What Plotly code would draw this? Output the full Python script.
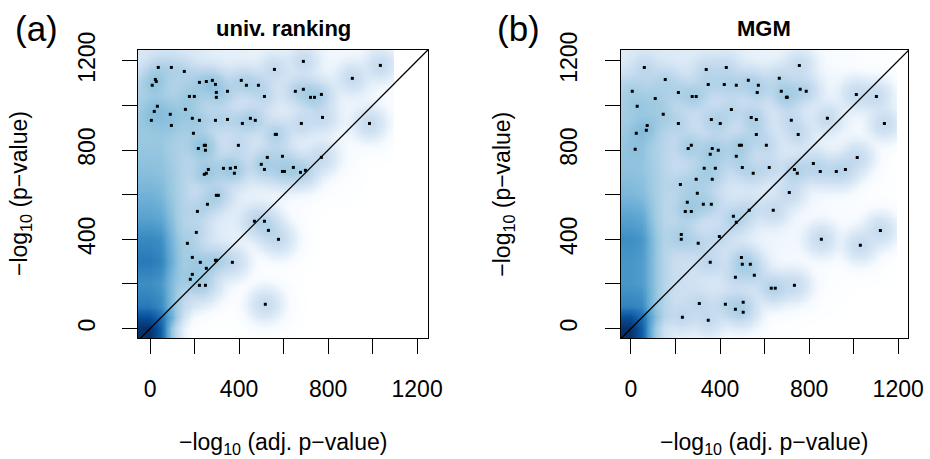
import numpy as np
import plotly.graph_objects as go

# ---------------- data ----------------
# outlying points drawn as black dots, panel (a) univ. ranking
A_X = [37, 96, 154, 24, 28, 10, 222, 253, 280, 294, 298, 298, 177, 199, 348, 410, 433, 487, 514, 559,
       689, 653, 689, 721, 739, 770, 909, 1035, 33, 19, 6, 91, 159, 96, 190, 222, 294, 348, 415, 451,
       473, 680, 775, 986, 195, 563, 568, 217, 244, 249, 249, 397, 527, 595, 770, 500, 514, 262, 244, 253,
       330, 361, 384, 379, 595, 604, 644, 676, 698, 298, 307, 258, 213, 208, 168, 469, 514, 532, 577, 190,
       226, 294, 298, 370, 253, 190, 181, 222, 249, 518]
A_Y = [1170, 1170, 1152, 1116, 1107, 1090, 1103, 1107, 1112, 1094, 1058, 1036, 1040, 1040, 1063, 1112, 1090, 1090, 1040, 1161,
       1197, 1063, 1072, 1036, 1036, 1049, 1121, 1179, 996, 973, 933, 960, 982, 910, 942, 933, 933, 937, 919, 942,
       933, 919, 946, 919, 875, 870, 870, 807, 821, 821, 799, 821, 767, 772, 767, 736, 713, 713, 691, 696,
       718, 718, 722, 696, 704, 704, 722, 700, 709, 597, 597, 557, 525, 431, 382, 481, 481, 440, 400, 319,
       297, 306, 306, 297, 270, 243, 221, 194, 194, 109]

# panel (b) MGM
B_X = [60, 6, 154, 109, 28, 213, 275, 293, 338, 428, 347, 419, 473, 527, 572, 567, 666, 675, 698, 702,
       756, 760, 787, 1012, 1102, 145, 73, 69, 24, 19, 213, 361, 401, 451, 540, 563, 563, 720, 751, 882,
       1138, 257, 271, 365, 356, 392, 487, 496, 473, 608, 329, 379, 500, 549, 621, 734, 747, 819, 850, 922,
       963, 1016, 222, 293, 365, 298, 253, 244, 271, 325, 361, 711, 460, 473, 531, 639, 226, 226, 302, 397,
       855, 1030, 1120, 356, 496, 500, 536, 469, 554, 630, 648, 734, 307, 424, 469, 504, 504, 231, 347]
B_Y = [1170, 1063, 1116, 1031, 996, 1058, 1040, 1040, 1161, 1170, 1094, 1094, 1090, 1112, 1090, 1058, 1121, 1063, 1036, 1036,
       1179, 1072, 1063, 1049, 1040, 960, 910, 888, 875, 803, 919, 937, 919, 982, 946, 937, 870, 933, 870, 942,
       919, 807, 821, 807, 781, 799, 821, 821, 772, 821, 718, 718, 722, 696, 722, 713, 696, 740, 704, 704,
       713, 767, 646, 669, 669, 606, 566, 525, 525, 557, 557, 610, 503, 476, 530, 530, 422, 400, 382, 413,
       400, 373, 440, 297, 319, 288, 288, 230, 239, 181, 181, 194, 113, 109, 87, 118, 73, 51, 37]

# smoothed-density shading (0 = white, 1 = darkest blue)
GRID_X = [0, 50, 100, 150, 200, 300, 450, 600, 800, 1000, 1200]
GRID_Y = [0, 50, 100, 200, 300, 400, 500, 600, 700, 800, 900, 1000, 1100, 1200]
A_LEVEL = [
    [1.00, 0.85, 0.45, 0.20, 0.05, 0.00, 0.00, 0.00, 0.00, 0.00, 0.00],
    [0.90, 0.80, 0.55, 0.30, 0.12, 0.03, 0.00, 0.00, 0.00, 0.00, 0.00],
    [0.75, 0.70, 0.50, 0.35, 0.25, 0.10, 0.00, 0.00, 0.00, 0.00, 0.00],
    [0.68, 0.65, 0.50, 0.38, 0.30, 0.18, 0.05, 0.00, 0.00, 0.00, 0.00],
    [0.75, 0.72, 0.55, 0.40, 0.32, 0.22, 0.10, 0.00, 0.00, 0.00, 0.00],
    [0.70, 0.68, 0.52, 0.38, 0.30, 0.22, 0.15, 0.05, 0.00, 0.00, 0.00],
    [0.60, 0.58, 0.48, 0.38, 0.30, 0.22, 0.18, 0.10, 0.00, 0.00, 0.00],
    [0.54, 0.52, 0.45, 0.38, 0.31, 0.23, 0.18, 0.14, 0.05, 0.00, 0.00],
    [0.49, 0.48, 0.44, 0.38, 0.33, 0.26, 0.22, 0.20, 0.12, 0.00, 0.00],
    [0.46, 0.46, 0.42, 0.38, 0.33, 0.26, 0.22, 0.20, 0.15, 0.05, 0.00],
    [0.44, 0.44, 0.42, 0.38, 0.33, 0.26, 0.22, 0.20, 0.16, 0.12, 0.00],
    [0.42, 0.42, 0.41, 0.38, 0.33, 0.26, 0.22, 0.20, 0.16, 0.14, 0.00],
    [0.36, 0.36, 0.36, 0.36, 0.32, 0.26, 0.22, 0.20, 0.16, 0.14, 0.00],
    [0.24, 0.24, 0.24, 0.24, 0.23, 0.20, 0.18, 0.16, 0.14, 0.12, 0.00],
]
B_LEVEL = [
    [1.00, 0.85, 0.50, 0.30, 0.20, 0.14, 0.10, 0.05, 0.00, 0.00, 0.00],
    [0.90, 0.80, 0.55, 0.38, 0.28, 0.20, 0.14, 0.08, 0.02, 0.00, 0.00],
    [0.72, 0.70, 0.50, 0.38, 0.30, 0.24, 0.18, 0.10, 0.05, 0.00, 0.00],
    [0.65, 0.63, 0.50, 0.38, 0.32, 0.27, 0.20, 0.14, 0.08, 0.02, 0.00],
    [0.65, 0.63, 0.50, 0.38, 0.32, 0.28, 0.22, 0.15, 0.10, 0.05, 0.00],
    [0.68, 0.65, 0.50, 0.38, 0.32, 0.28, 0.22, 0.16, 0.12, 0.08, 0.00],
    [0.60, 0.58, 0.46, 0.37, 0.32, 0.28, 0.23, 0.18, 0.12, 0.08, 0.00],
    [0.52, 0.50, 0.44, 0.37, 0.32, 0.28, 0.25, 0.20, 0.14, 0.08, 0.00],
    [0.48, 0.47, 0.43, 0.37, 0.32, 0.29, 0.26, 0.22, 0.16, 0.10, 0.00],
    [0.45, 0.45, 0.41, 0.37, 0.32, 0.29, 0.27, 0.23, 0.18, 0.12, 0.00],
    [0.43, 0.43, 0.41, 0.37, 0.32, 0.29, 0.27, 0.23, 0.18, 0.14, 0.00],
    [0.41, 0.41, 0.40, 0.37, 0.32, 0.29, 0.27, 0.23, 0.18, 0.14, 0.00],
    [0.35, 0.35, 0.35, 0.34, 0.32, 0.28, 0.26, 0.22, 0.17, 0.12, 0.00],
    [0.22, 0.22, 0.23, 0.23, 0.23, 0.21, 0.20, 0.17, 0.13, 0.08, 0.00],
]
A_IMAGE_XMAX = 1094
B_IMAGE_XMAX = 1193

MAJOR_TICKS = [0, 400, 800, 1200]
MINOR_TICKS = [200, 600, 1000]
TITLES = ["univ. ranking", "MGM"]
TAGS = ["(a)", "(b)"]

# ---------------- styling ----------------
FONT = "Liberation Sans, Arial, Helvetica, sans-serif"
BLUES = ["#FFFFFF", "#F7FBFF", "#DEEBF7", "#C6DBEF", "#9ECAE1", "#6BAED6",
         "#4292C6", "#2171B5", "#08519C", "#08306B"]
COLORSCALE = [[i / 9, c] for i, c in enumerate(BLUES)]
BW = 38.0       # kernel bandwidth for the dots' own contribution
AMP = 0.011     # kernel height (density units)
W, H = 930, 459
XR = [[-54, 1249], [-46, 1244]]
YR = [-42, 1248]
BOX_X = [[138, 428], [620.7, 908]]
BOX_Y = [50, 338]


def shading(px, py, level, xmax):
    gx = np.arange(-60.0, 1255.0, 4.0)
    gy = np.arange(-60.0, 1255.0, 4.0)
    L = np.array(level, dtype=float)
    rows = np.array([np.interp(gx, GRID_X, r) for r in L])
    bg = np.array([np.interp(gy, GRID_Y, rows[:, j]) for j in range(len(gx))]).T
    D = bg ** 4
    XX, YY = np.meshgrid(gx, gy)
    for x, y in zip(px, py):
        D += AMP * np.exp(-((XX - x) ** 2 + (YY - y) ** 2) / (2 * BW * BW))
    lev = np.clip(D, 0, 1) ** 0.25
    lev[:, gx > xmax] = np.nan
    return gx, gy, lev


fig = go.Figure()
panels = [(A_X, A_Y, A_LEVEL, A_IMAGE_XMAX), (B_X, B_Y, B_LEVEL, B_IMAGE_XMAX)]
for i, (px, py, lv, xm) in enumerate(panels):
    xa = "x" if i == 0 else "x2"
    ya = "y" if i == 0 else "y2"
    gx, gy, lev = shading(px, py, lv, xm)
    fig.add_trace(go.Heatmap(x=gx, y=gy, z=lev, zmin=0, zmax=1, colorscale=COLORSCALE,
                             showscale=False, hoverinfo="skip", xaxis=xa, yaxis=ya))
    fig.add_trace(go.Scatter(x=[-100, 1300], y=[-100, 1300], mode="lines",
                             line=dict(color="black", width=1.3), xaxis=xa, yaxis=ya,
                             showlegend=False, hoverinfo="skip"))
    fig.add_trace(go.Scatter(x=px, y=py, mode="markers",
                             marker=dict(symbol="square", size=3, color="black", line=dict(width=0)),
                             xaxis=xa, yaxis=ya, showlegend=False))

axis_common = dict(showgrid=False, zeroline=False, showline=True, mirror=True, linecolor="black",
                   linewidth=1.3, ticks="outside", ticklen=15, tickwidth=1.3, tickcolor="black",
                   tickmode="array", tickvals=MAJOR_TICKS, automargin=False,
                   minor=dict(tickmode="array", tickvals=MINOR_TICKS, ticks="outside", ticklen=15,
                              tickwidth=1.3, tickcolor="black", showgrid=False),
                   tickfont=dict(family=FONT, size=23, color="black"))
layout = dict(template="none", width=W, height=H, autosize=False,
              margin=dict(l=0, r=0, t=0, b=0, pad=0, autoexpand=False), plot_bgcolor="white",
              paper_bgcolor="white", showlegend=False, font=dict(family=FONT, color="black"))
for i in range(2):
    sx = "" if i == 0 else "2"
    dx = [BOX_X[i][0] / W, BOX_X[i][1] / W]
    dy = [(H - BOX_Y[1]) / H, (H - BOX_Y[0]) / H]
    layout["xaxis" + sx] = dict(axis_common, domain=dx, range=XR[i], anchor="y" + sx,
                                ticklabelstandoff=15)
    layout["yaxis" + sx] = dict(axis_common, domain=dy, range=YR, anchor="x" + sx,
                                tickangle=-90, ticklabelstandoff=18)
fig.update_layout(**layout)

ann = []
for i in range(2):
    cx = (BOX_X[i][0] + BOX_X[i][1]) / 2
    ann.append(dict(x=cx / W, y=(H - 28) / H, xref="paper", yref="paper", text="<b>%s</b>" % TITLES[i],
                    showarrow=False, font=dict(family=FONT, size=22, color="black"),
                    xanchor="center", yanchor="middle"))
    ann.append(dict(x=cx / W, y=(H - 443) / H, xref="paper", yref="paper",
                    text="\u2212log<sub>10</sub> (adj. p\u2212value)", showarrow=False,
                    font=dict(family=FONT, size=23, color="black"), xanchor="center", yanchor="middle"))
    ann.append(dict(x=(BOX_X[i][0] - 118) / W, y=(H - 194) / H, xref="paper", yref="paper",
                    text="\u2212log<sub>10</sub> (p\u2212value)", showarrow=False, textangle=-90,
                    font=dict(family=FONT, size=23, color="black"), xanchor="center", yanchor="middle"))
    ann.append(dict(x=(BOX_X[i][0] - 102) / W, y=(H - 28) / H, xref="paper", yref="paper",
                    text=TAGS[i], showarrow=False, font=dict(family=FONT, size=35, color="black"),
                    xanchor="center", yanchor="middle"))
fig.update_layout(annotations=ann)

fig.write_html("out.html", config={"responsive": False, "displayModeBar": False})
